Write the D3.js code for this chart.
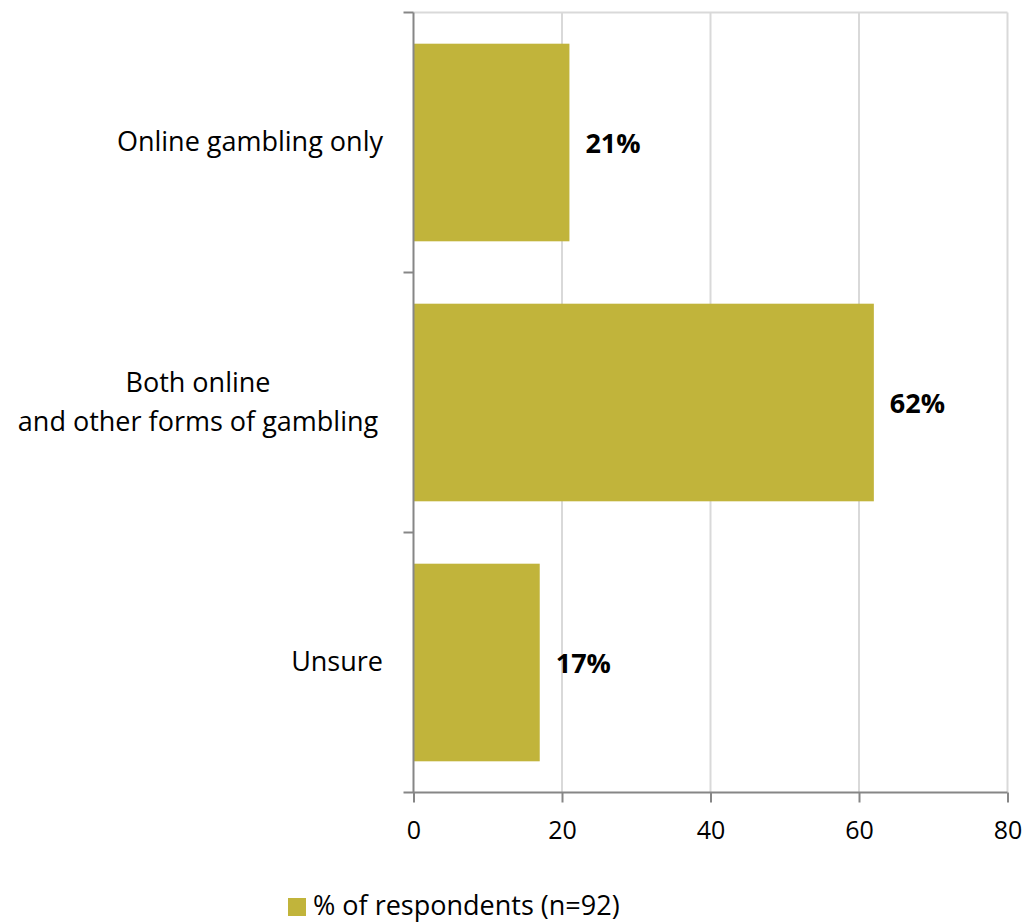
<!DOCTYPE html>
<html>
<head>
<meta charset="utf-8">
<script src="https://cdn.jsdelivr.net/npm/d3@7"></script>
<style>
  html, body { margin: 0; padding: 0; background: #fff; }
  svg { display: block; }
  text { font-family: "Open Sans", "Noto Sans", sans-serif; fill: #000; }
</style>
</head>
<body>
<svg id="chart" width="1026" height="922"></svg>
<script>
// Survey answers: where respondents gamble
const categories = [
  ["Online gambling only"],
  ["Both online", "and other forms of gambling"],
  ["Unsure"]
];
const values = [21, 62, 17];
const xTicks = [0, 20, 40, 60, 80];
const seriesName = "% of respondents (n=92)";

const barColor = "#c1b43b";
const gridColor = "#d9d9d9";
const axisColor = "#868686";
const fontFamily = "'Open Sans', 'Noto Sans', sans-serif";
const labelSize = 27;

const svg = d3.select("#chart");
const plot = { left: 413.5, right: 1007.5, top: 12.5, bottom: 792.5 };

const x = d3.scaleLinear().domain([0, 80]).range([plot.left, plot.right]);
const y = d3.scaleBand()
  .domain(d3.range(categories.length))
  .range([plot.top, plot.bottom])
  .paddingInner(0.24)
  .paddingOuter(0.12);

// vertical gridlines and plot frame
svg.append("g")
  .selectAll("line")
  .data(xTicks.slice(1))
  .join("line")
  .attr("x1", d => x(d)).attr("x2", d => x(d))
  .attr("y1", plot.top).attr("y2", plot.bottom)
  .attr("stroke", gridColor).attr("stroke-width", 2);
svg.append("line")
  .attr("x1", plot.left).attr("x2", plot.right)
  .attr("y1", plot.top).attr("y2", plot.top)
  .attr("stroke", gridColor).attr("stroke-width", 2);

// bars
svg.append("g")
  .selectAll("rect")
  .data(values)
  .join("rect")
  .attr("x", x(0))
  .attr("y", (d, i) => y(i))
  .attr("width", d => x(d) - x(0))
  .attr("height", y.bandwidth())
  .attr("fill", barColor);

// value labels
svg.append("g")
  .selectAll("text")
  .data(values)
  .join("text")
  .attr("x", d => x(d) + 16)
  .attr("y", (d, i) => y(i) + y.bandwidth() / 2 + 10)
  .attr("font-size", labelSize)
  .attr("font-weight", "bold")
  .text(d => d + "%");

// x axis
const xAxis = d3.axisBottom(x).tickValues(xTicks).tickSize(10).tickPadding(19);
const gx = svg.append("g")
  .attr("transform", `translate(0,${plot.bottom})`)
  .call(xAxis);
gx.select(".domain")
  .attr("d", `M${plot.left - 10},0H${plot.right}`)
  .attr("stroke", axisColor).attr("stroke-width", 2);
gx.selectAll(".tick line").attr("stroke", axisColor).attr("stroke-width", 2);
gx.selectAll(".tick text")
  .attr("font-size", 25)
  .attr("font-family", fontFamily)
  .attr("fill", "#000");

// y axis: category boundary ticks
const yEdges = d3.range(categories.length + 1).map(i => plot.top + i * (plot.bottom - plot.top) / categories.length);
svg.append("line")
  .attr("x1", plot.left).attr("x2", plot.left)
  .attr("y1", plot.top).attr("y2", plot.bottom)
  .attr("stroke", axisColor).attr("stroke-width", 2);
svg.append("g")
  .selectAll("line")
  .data(yEdges.slice(0, -1))
  .join("line")
  .attr("x1", plot.left - 10).attr("x2", plot.left)
  .attr("y1", d => d).attr("y2", d => d)
  .attr("stroke", axisColor).attr("stroke-width", 2);

// category labels
const lineH = 39;
const catG = svg.append("g");
categories.forEach((lines, i) => {
  const cy = y(i) + y.bandwidth() / 2;
  const t = catG.append("text")
    .attr("font-size", labelSize)
    .attr("text-anchor", lines.length > 1 ? "middle" : "end");
  const xPos = lines.length > 1 ? 198 : 383;
  lines.forEach((ln, j) => {
    t.append("tspan")
      .attr("x", xPos)
      .attr("y", cy + 8.5 + (j - (lines.length - 1) / 2) * lineH)
      .text(ln);
  });
});

// legend
const leg = svg.append("g");
leg.append("rect")
  .attr("x", 288).attr("y", 898)
  .attr("width", 18).attr("height", 18)
  .attr("fill", barColor);
leg.append("text")
  .attr("x", 313).attr("y", 915)
  .attr("font-size", labelSize)
  .text(seriesName);
</script>
</body>
</html>
